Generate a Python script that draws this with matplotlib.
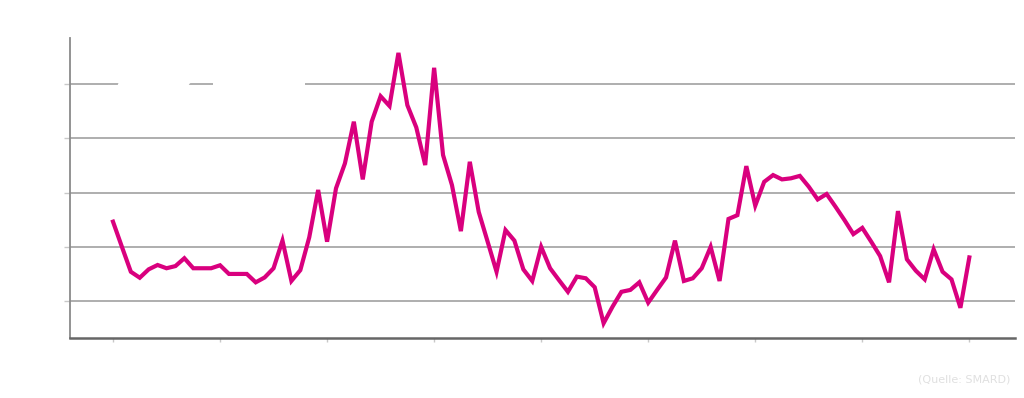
import numpy as np
import matplotlib
matplotlib.use("Agg")
import matplotlib.pyplot as plt
from matplotlib.patches import Polygon, Rectangle

# Day-ahead prices (€/MWh), quarter-hourly from 00:00 to 24:00
prices = [
    109.3, 100.0, 90.8, 88.6, 91.7, 93.3, 92.1, 92.9, 95.8, 92.1,
    92.1, 92.1, 93.2, 90.0, 90.0, 90.0, 86.9, 88.7, 92.1, 102.3,
    87.4, 91.4, 103.5, 121.0, 101.9, 121.6, 130.8, 146.2, 124.9, 146.2,
    155.6, 152.0, 171.6, 152.3, 144.1, 130.2, 166.1, 133.9, 122.8, 105.8,
    131.4, 112.9, 101.9, 90.8, 106.2, 102.3, 91.7, 87.4, 100.0, 92.1,
    87.7, 83.4, 89.0, 88.4, 85.1, 71.8, 77.9, 83.4, 84.1, 86.9,
    79.4, 84.1, 88.7, 102.3, 87.4, 88.4, 92.1, 100.0, 87.4, 110.3,
    111.7, 129.8, 115.2, 124.0, 126.5, 124.9, 125.3, 126.2, 122.2, 117.5,
    119.5, 114.8, 109.9, 104.7, 107.0, 101.9, 96.6, 86.9, 113.2, 95.4,
    91.2, 88.0, 99.1, 90.8, 88.0, 77.5, 96.1,
]
hours = np.arange(len(prices)) / 4.0

xtick_pos = [0, 3, 6, 9, 12, 15, 18, 21, 24]
xtick_labels = ["00:00", "03:00", "06:00", "09:00", "12:00", "15:00", "18:00", "21:00", "00:00"]
ytick_pos = [80, 100, 120, 140, 160]

title = "Day-Ahead Preise am 09.10.2025"
ylabel = "Großhandelspreis / €/MWh"
xlabel = "Zeit"
source = "(Quelle: SMARD)"

LINE = "#d9007e"
TXT = "#ffffff"

fig = plt.figure(figsize=(10.24, 3.98), dpi=100)
ax = fig.add_axes([70/1024, 1-338/398, (1015-70)/1024, (338-38)/398])

ax.plot(hours, prices, color=LINE, lw=3.0, solid_joinstyle="miter", zorder=3)

ax.set_xlim(-1.205, 25.28)
ax.set_ylim(66.35, 177.1)
ax.set_xticks(xtick_pos)
ax.set_xticklabels(xtick_labels, color=TXT, fontsize=10.5)
ax.set_yticks(ytick_pos)
ax.set_yticklabels([str(v) for v in ytick_pos], color=TXT, fontsize=10.5)
ax.grid(axis="y", color="#a8a8a8", lw=1.3, zorder=1)
ax.tick_params(axis="x", colors="#c8c8c8", length=3, width=1, labelcolor=TXT, pad=8)
ax.tick_params(axis="y", colors="#c8c8c8", length=4, width=1, labelcolor=TXT, pad=6)

for s in ["top", "right"]:
    ax.spines[s].set_visible(False)
ax.spines["left"].set_color("#8a8a8a")
ax.spines["left"].set_linewidth(1.3)
ax.spines["bottom"].set_color("#666666")
ax.spines["bottom"].set_linewidth(1.8)

ax.set_xlabel(xlabel, color=TXT, fontsize=10.5, labelpad=2)
fig.text(18/1024, 1-190/398, ylabel, color=TXT, fontsize=10, rotation=90,
         ha="center", va="center")
fig.text(0.53, 0.955, title, color=TXT, fontsize=14, ha="center", va="center")
fig.text(1010/1024, 1-380/398, source, color="#e0e0e0", fontsize=8, ha="right", va="center")

# white logo (mountain + text) overlaying the grid
logo = Polygon([[0.06, 157], [0.3, 166], [0.9, 172], [1.5, 170], [2.0, 173.5],
                [2.4, 168], [2.5, 163], [2.15, 160.3], [2.0, 157], [1.7, 154],
                [1.0, 151], [0.4, 151]], closed=True, facecolor="white",
               edgecolor="none", transform=ax.transData, zorder=2)
ax.add_patch(logo)
ax.add_patch(Rectangle((2.81, 157.5), 5.38 - 2.81, 5, facecolor="white",
                       edgecolor="none", zorder=2))
ax.text(4.1, 153.5, "ZUKUNFT\nENERGY", color=TXT, fontsize=10, ha="center", va="center",
        fontweight="bold", zorder=2, linespacing=1.1)

fig.savefig("out.png", dpi=100, facecolor="white")
